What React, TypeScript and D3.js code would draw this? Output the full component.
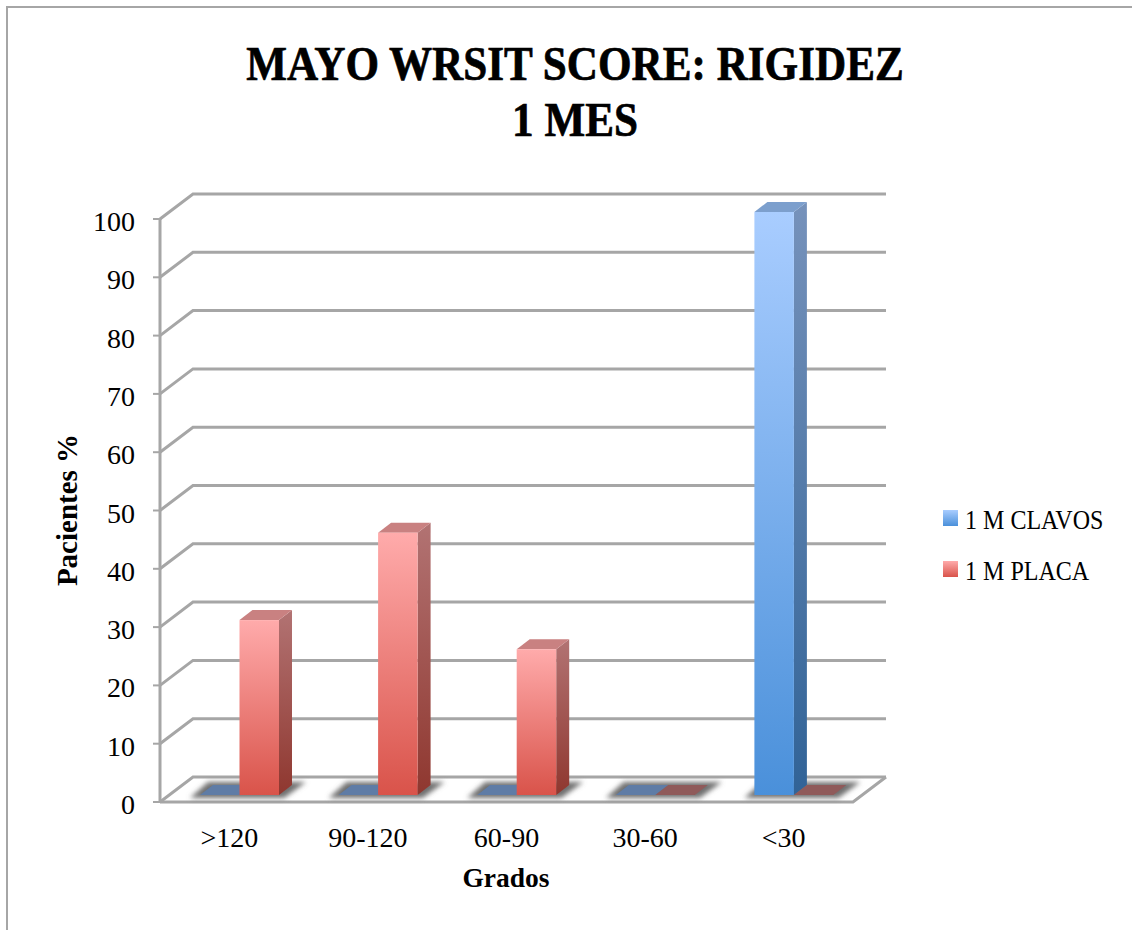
import React from "react";
import * as d3 from "d3";

const categories = [">120", "90-120", "60-90", "30-60", "<30"];
const clavos = [0, 0, 0, 0, 100];
const placa = [30, 45, 25, 0, 0];
const yTicks = d3.range(0, 101, 10);
const titleLines = ["MAYO WRSIT SCORE: RIGIDEZ", "1 MES"];
const FONT = "'Liberation Serif', serif";
const GRID = "#a6a6a6";

const left = 160, right = 853, front0 = 802, front100 = 219;
const dx = 33, dy = 25;
const bx = 13, by = 10, barInsetY = 7;

const y = d3.scaleLinear().domain([0, 100]).range([front0, front100]);
const x = d3.scaleBand<string>().domain(categories).range([left, right]);
const sub = d3.scaleBand<string>().domain(["clavos", "placa"]).range([40, 119]);

const pts = (p: number[][]) => p.map((q) => q.join(",")).join(" ");

const palette = {
  clavos: { a: "#a9cdff", b: "#4a90da", sa: "#7692bb", sb: "#316397", top: "#7c9fcd", tile: "#5f7ca6" },
  placa: { a: "#ffabab", b: "#d9534a", sa: "#b27373", sb: "#8f372f", top: "#c98181", tile: "#8f5a5a" },
};

function Bar({ cat, name, v }: { cat: string; name: "clavos" | "placa"; v: number }) {
  const x0 = (x(cat) as number) + (sub(name) as number);
  const w = sub.bandwidth();
  const yb = y(0) - barInsetY;
  const yt = y(v) - barInsetY;
  const c = palette[name];
  if (v === 0) {
    return <polygon points={pts([[x0, yb], [x0 + w, yb], [x0 + w + bx, yb - by], [x0 + bx, yb - by]])} fill={c.tile} />;
  }
  return (
    <g>
      <polygon points={pts([[x0 + w, yb], [x0 + w + bx, yb - by], [x0 + w + bx, yt - by], [x0 + w, yt]])} fill={`url(#side-${name})`} />
      <polygon points={pts([[x0, yt], [x0 + w, yt], [x0 + w + bx, yt - by], [x0 + bx, yt - by]])} fill={c.top} />
      <rect x={x0} y={yt} width={w} height={yb - yt} fill={`url(#front-${name})`} />
    </g>
  );
}

export default function App() {
  const legend = [
    { label: "1 M CLAVOS", key: "clavos", ty: 520 },
    { label: "1 M PLACA", key: "placa", ty: 571 },
  ];
  return (
    <svg width={1132} height={930} style={{ position: "absolute", left: 0, top: 0, background: "#fff" }} fontFamily={FONT}>
      <defs>
        {(["clavos", "placa"] as const).map((n) => (
          <React.Fragment key={n}>
            <linearGradient id={`front-${n}`} x1="0" y1="0" x2="0" y2="1">
              <stop offset="0" stopColor={palette[n].a} />
              <stop offset="1" stopColor={palette[n].b} />
            </linearGradient>
            <linearGradient id={`side-${n}`} x1="0" y1="0" x2="0" y2="1">
              <stop offset="0" stopColor={palette[n].sa} />
              <stop offset="1" stopColor={palette[n].sb} />
            </linearGradient>
          </React.Fragment>
        ))}
        <filter id="soft" x="-30%" y="-80%" width="160%" height="260%">
          <feGaussianBlur stdDeviation="2.6" />
        </filter>
      </defs>

      <path d="M7,930 V7 H1132" fill="none" stroke={GRID} strokeWidth={2} />

      {titleLines.map((t, i) => (
        <text key={t} transform={`translate(575,${80 + i * 56}) scale(0.881,1)`} textAnchor="middle" fontSize={49} fontWeight="bold" fill="#000" stroke="#000" strokeWidth={0.7}>{t}</text>
      ))}

      {yTicks.map((t) => (
        <g key={t}>
          <line x1={left - 7} x2={left} y1={y(t)} y2={y(t)} stroke={GRID} strokeWidth={2} />
          <polyline
            points={pts([[left, y(t)], [left + dx, y(t) - dy], [right + dx, y(t) - dy]])}
            fill="none" stroke={GRID} strokeWidth={3} />
          <text x={135} y={y(t) + 12} textAnchor="end" fontSize={28} fill="#000">{t}</text>
        </g>
      ))}
      <line x1={left} x2={left} y1={y(100)} y2={y(0) + 1} stroke={GRID} strokeWidth={3} />
      <polyline points={pts([[left, y(0)], [right, y(0)], [right + dx, y(0) - dy]])} fill="none" stroke={GRID} strokeWidth={3} />

      {categories.map((c) => {
        const x0 = (x(c) as number) + (sub("clavos") as number);
        const x1 = (x(c) as number) + (sub("placa") as number) + sub.bandwidth();
        const yb = y(0) - barInsetY;
        return (
          <polygon key={c} filter="url(#soft)" fill="#6f6f6f"
            points={pts([[x0 - 10, yb + 3], [x1 + 5, yb + 3], [x1 + bx + 14, yb - by - 3], [x0 + bx - 5, yb - by - 3]])} />
        );
      })}

      {categories.map((c, i) => (
        <g key={c}>
          <Bar cat={c} name="clavos" v={clavos[i]} />
          <Bar cat={c} name="placa" v={placa[i]} />
        </g>
      ))}

      {categories.map((c) => (
        <text key={c} x={(x(c) as number) + x.bandwidth() / 2} y={847} textAnchor="middle" fontSize={28} fill="#000">{c}</text>
      ))}
      <text x={506} y={887} textAnchor="middle" fontSize={27.5} fontWeight="bold" fill="#000">Grados</text>
      <text transform="translate(77,510) rotate(-90)" textAnchor="middle" fontSize={29} fontWeight="bold" fill="#000">Pacientes %</text>

      {legend.map((l) => (
        <g key={l.key}>
          <rect x={943} y={l.ty - 10} width={15} height={16} fill={`url(#front-${l.key})`} />
          <text transform={`translate(965,${l.ty + 9}) scale(0.89,1)`} fontSize={27} fill="#000">{l.label}</text>
        </g>
      ))}
    </svg>
  );
}
